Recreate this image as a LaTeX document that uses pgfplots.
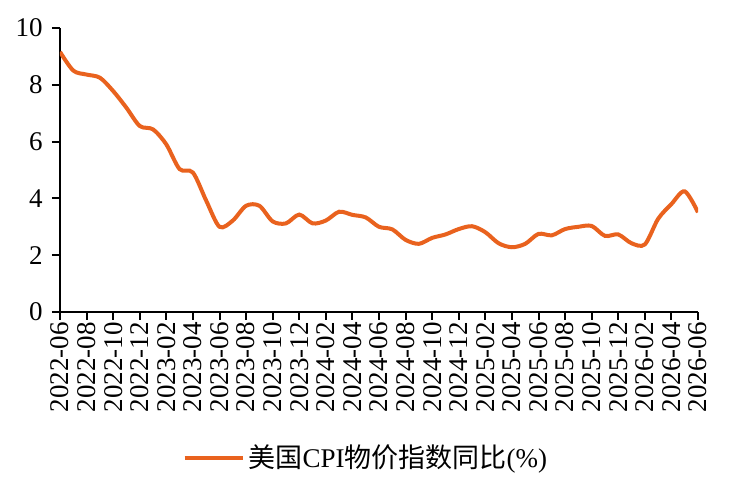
\documentclass[border=0pt]{standalone}
\usepackage{pgfplots}
\pgfplotsset{compat=1.18}
\usepackage{fontspec}
\setmainfont{Liberation Serif}
\newfontfamily\cjk{Noto Sans CJK SC}
\definecolor{cpiorange}{RGB}{233,98,30}
\begin{document}
\fontsize{13.5bp}{16bp}\selectfont
\begin{tikzpicture}
\useasboundingbox (0,0) rectangle (364.5bp,246.5bp);
\begin{axis}[
  at={(30bp,90.5bp)}, anchor=south west,
  scale only axis, width=319bp, height=142bp,
  xmin=0, xmax=48, ymin=0, ymax=10,
  axis lines=left, axis line style={-, line width=1bp},
  xtick={0,2,...,48},
  xticklabels={2022-06,2022-08,2022-10,2022-12,2023-02,2023-04,2023-06,2023-08,2023-10,2023-12,2024-02,2024-04,2024-06,2024-08,2024-10,2024-12,2025-02,2025-04,2025-06,2025-08,2025-10,2025-12,2026-02,2026-04,2026-06},
  ytick={0,2,...,10},
  tick style={line width=1bp, black},
  tick align=outside, major tick length=4bp,
  x tick label style={rotate=90, anchor=east, font=\fontsize{13.5bp}{16bp}\selectfont, inner sep=1bp},
  y tick label style={font=\fontsize{13.5bp}{16bp}\selectfont},
  /pgf/number format/assume math mode=true,
  legend style={at={(0.481,-0.514)}, anchor=center, draw=none, fill=none,
    font=\fontsize{13.5bp}{16bp}\selectfont},
  legend image code/.code={\draw[line width=2bp, cpiorange] (0bp,0bp) -- (29bp,0bp);},
]
\addplot[cpiorange, line width=2bp, smooth, tension=0.5] coordinates {
(0,9.16)(1,8.50)(2,8.36)(3,8.25)(4,7.78)(5,7.19)(6,6.55)(7,6.43)(8,5.90)(9,5.03)
(10,4.91)(11,3.92)(12,3.00)(13,3.22)(14,3.74)(15,3.74)(16,3.19)(17,3.12)(18,3.43)(19,3.12)
(20,3.22)(21,3.53)(22,3.42)(23,3.33)(24,3.00)(25,2.91)(26,2.54)(27,2.40)(28,2.61)(29,2.73)
(30,2.92)(31,3.02)(32,2.81)(33,2.42)(34,2.28)(35,2.40)(36,2.75)(37,2.70)(38,2.92)(39,3.00)
(40,3.03)(41,2.68)(42,2.73)(43,2.42)(44,2.38)(45,3.28)(46,3.80)(47,4.25)(48,3.51)
};
\addlegendentry{{\cjk 美国}CPI{\cjk 物价指数同比}(\%)}
\end{axis}
\end{tikzpicture}
\end{document}
